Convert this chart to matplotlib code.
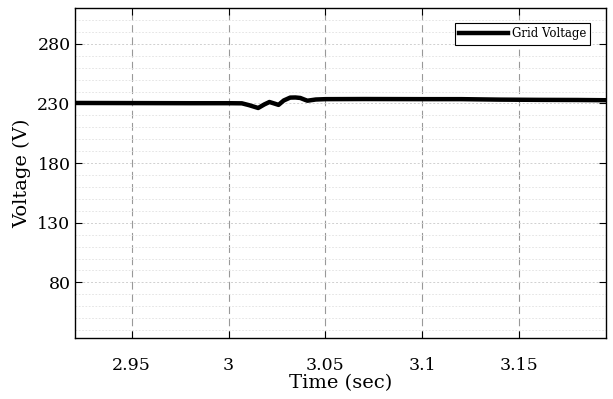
import numpy as np
import matplotlib.pyplot as plt
from matplotlib.ticker import MultipleLocator

# grid voltage trace (sec, V)
t = [2.921, 2.95, 2.98, 3.0, 3.0069, 3.0105, 3.0153, 3.0185, 3.0211, 3.0235,
     3.0258, 3.0285, 3.0318, 3.0345, 3.037, 3.0395, 3.0407, 3.045, 3.05,
     3.07, 3.1, 3.12, 3.14, 3.16, 3.18, 3.1945]
v = [230.4, 230.3, 230.2, 230.2, 230.1, 228.6, 226.2, 229.2, 231.2, 230.0,
     228.8, 232.5, 234.9, 235.0, 234.6, 233.0, 232.3, 233.3, 233.6,
     233.7, 233.6, 233.6, 233.2, 233.0, 232.9, 232.7]

x_ticks = [2.95, 3.0, 3.05, 3.1, 3.15]
x_labels = ["2.95", "3", "3.05", "3.1", "3.15"]
y_ticks = [80, 130, 180, 230, 280]

plt.rcParams['font.family'] = ['DejaVu Serif']

fig = plt.figure(figsize=(6.13, 3.99), dpi=100)
ax = fig.add_axes([75.3 / 613, 1 - 338 / 399, (605.7 - 75.3) / 613, (338 - 8) / 399])

ax.plot(t, v, color="black", lw=3.2, label="Grid Voltage")

ax.set_xlim(2.921, 3.1945)
ax.set_ylim(33.4, 310)
ax.set_xticks(x_ticks)
ax.set_xticklabels(x_labels)
ax.set_yticks(y_ticks)
ax.yaxis.set_minor_locator(MultipleLocator(10))

ax.grid(True, axis="x", which="major", color="#999999", ls=(0, (7, 4)), lw=0.8)
ax.grid(True, axis="y", which="major", color="#d0d0d0", ls=(0, (2, 2)), lw=0.7)
ax.grid(True, axis="y", which="minor", color="#e0e0e0", ls=(0, (2, 2)), lw=0.6)

ax.tick_params(which="both", direction="in", top=True, right=True, labelsize=12.5)
ax.tick_params(which="major", length=5)
ax.tick_params(which="minor", length=0)
ax.tick_params(axis="x", pad=14)

for s in ax.spines.values():
    s.set_linewidth(1.0)

ax.set_xlabel("Time (sec)", fontsize=14, labelpad=0)
ax.set_ylabel("Voltage (V)", fontsize=14, labelpad=4)

leg = ax.legend(loc="upper right", fontsize=8.5, frameon=True, fancybox=False,
                edgecolor="black", framealpha=1, handlelength=4.2,
                borderaxespad=1.3, handletextpad=0.3, borderpad=0.35)
leg.get_frame().set_linewidth(0.8)

fig.savefig("out.png", dpi=100)
